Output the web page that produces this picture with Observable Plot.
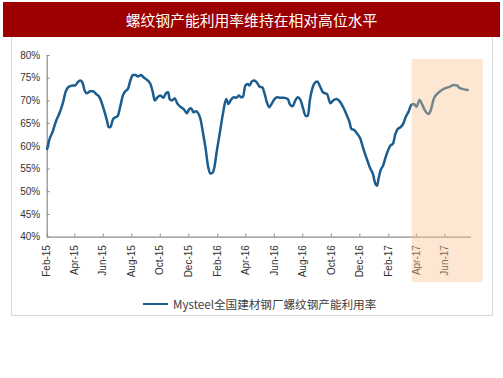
<!DOCTYPE html>
<html><head><meta charset="utf-8">
<script src="https://cdn.jsdelivr.net/npm/d3@7"></script>
<script src="https://cdn.jsdelivr.net/npm/@observablehq/plot@0.6"></script>
<style>
html,body{margin:0;padding:0;background:#fff;}
#wrap{position:relative;width:503px;height:378px;overflow:hidden;}
#box{position:absolute;left:11px;top:30px;width:482px;height:286px;border:1px solid #d9d9d9;box-sizing:border-box;}
#title{position:absolute;left:3px;top:2px;width:497px;height:35px;background:#9C0000;color:#fff;font:14.8px "Noto Sans CJK SC",sans-serif;display:flex;align-items:center;justify-content:center;}
#chart{position:absolute;left:0;top:0;}
#legend{position:absolute;left:143px;top:296px;height:16px;display:flex;align-items:center;font:11.6px "Noto Sans CJK SC",sans-serif;color:#404040;white-space:nowrap;}
#legend .sw{width:25px;height:2.5px;background:#1A5D8E;margin-right:5px;}
</style></head>
<body>
<div id="wrap">
  <div id="box"></div>
  <div id="chart"></div>
  <div id="title">螺纹钢产能利用率维持在相对高位水平</div>
  <div id="legend"><span class="sw"></span><span>Mysteel全国建材钢厂螺纹钢产能利用率</span></div>
</div>
<script>
const seriesName = "Mysteel全国建材钢厂螺纹钢产能利用率";
const dates = [
"2015-02-01","2015-02-06","2015-02-12","2015-02-19","2015-02-28","2015-03-07","2015-03-12","2015-03-19","2015-03-28","2015-04-02",
"2015-04-07","2015-04-13","2015-04-18","2015-04-22","2015-04-27","2015-05-04","2015-05-10","2015-05-17","2015-05-24","2015-06-02",
"2015-06-09","2015-06-12","2015-06-16","2015-06-22","2015-06-27","2015-07-02","2015-07-07","2015-07-13","2015-07-20","2015-07-24",
"2015-07-29","2015-08-03","2015-08-09","2015-08-14","2015-08-21","2015-08-26","2015-09-03","2015-09-10","2015-09-15","2015-09-19",
"2015-09-25","2015-10-01","2015-10-08","2015-10-13","2015-10-18","2015-10-21","2015-10-26","2015-11-01","2015-11-06","2015-11-13",
"2015-11-20","2015-11-27","2015-12-02","2015-12-06","2015-12-11","2015-12-16","2015-12-21","2015-12-26","2015-12-31","2016-01-06",
"2016-01-11","2016-01-16","2016-01-21","2016-01-25","2016-01-29","2016-02-05","2016-02-12","2016-02-19","2016-02-24","2016-02-29",
"2016-03-06","2016-03-12","2016-03-17","2016-03-22","2016-03-26","2016-03-31","2016-04-05","2016-04-09","2016-04-14","2016-04-19",
"2016-04-25","2016-05-01","2016-05-06","2016-05-11","2016-05-16","2016-05-21","2016-05-26","2016-05-31","2016-06-07","2016-06-14",
"2016-06-21","2016-06-30","2016-07-04","2016-07-10","2016-07-16","2016-07-21","2016-07-27","2016-08-02","2016-08-07","2016-08-12",
"2016-08-16","2016-08-21","2016-08-26","2016-09-01","2016-09-06","2016-09-13","2016-09-22","2016-09-29","2016-10-05","2016-10-12",
"2016-10-19","2016-10-26","2016-11-02","2016-11-09","2016-11-13","2016-11-19","2016-11-25","2016-12-02","2016-12-09","2016-12-16",
"2016-12-23","2016-12-29","2017-01-03","2017-01-07","2017-01-10","2017-01-14","2017-01-20","2017-01-25","2017-01-30","2017-02-04",
"2017-02-10","2017-02-15","2017-02-20","2017-02-26","2017-03-04","2017-03-09","2017-03-16","2017-03-21","2017-03-27","2017-04-01",
"2017-04-08","2017-04-13","2017-04-20","2017-04-27","2017-05-02","2017-05-08","2017-05-15","2017-05-24","2017-06-02","2017-06-11",
"2017-06-20","2017-06-27","2017-07-03","2017-07-11","2017-07-20"
];
const values = [
59.4,61.6,63.0,65.3,67.5,69.7,71.9,73.1,73.4,73.4,
74.1,74.5,73.9,72.3,71.7,72.1,72.1,71.5,70.8,68.2,
65.6,64.3,64.2,66.0,66.4,66.7,68.6,71.2,72.3,72.7,
74.5,75.7,75.7,75.4,75.7,75.2,74.6,73.7,71.9,70.1,
70.8,71.2,70.7,71.7,71.9,70.4,70.1,70.6,69.5,68.7,
68.2,67.3,68.2,68.4,67.5,67.7,67.3,66.0,63.2,59.5,
55.7,54.0,54.2,55.5,58.3,62.7,67.1,70.4,69.3,70.2,
70.8,70.7,71.2,70.8,70.9,73.4,73.7,73.4,74.3,74.5,
74.0,73.1,73.0,71.7,69.7,68.6,69.3,70.2,70.8,70.7,
70.7,70.4,69.3,68.8,70.1,70.8,70.2,68.2,66.7,66.7,
70.1,72.6,73.9,74.3,73.4,71.9,71.5,69.5,70.1,70.4,
69.9,68.7,67.1,65.3,63.8,63.6,62.8,61.7,59.3,57.2,
55.2,53.9,51.8,51.3,52.8,54.6,55.8,57.5,59.0,60.1,
60.6,62.7,63.8,64.2,65.0,66.4,67.8,69.1,69.3,68.7,
70.2,69.3,67.8,67.1,68.0,70.4,71.5,72.3,72.8,73.1,
73.5,73.4,72.8,72.6,72.4
];
const xTickDates = ["2015-02-01","2015-04-01","2015-06-01","2015-08-01","2015-10-01","2015-12-01","2016-02-01","2016-04-01","2016-06-01","2016-08-01","2016-10-01","2016-12-01","2017-02-01","2017-04-01","2017-06-01"];
const yTicks = [40,45,50,55,60,65,70,75,80];
const xDomain = ["2015-02-01","2017-07-28"];
const bandDates = ["2017-03-23","2017-08-22"];
const bandValues = [30,79.1];

const parse = d3.utcParse("%Y-%m-%d");
const data = dates.map((d,i)=>({date: parse(d), value: values[i]}));
const xt = xTickDates.map(parse);
const x0 = parse(xDomain[0]), x1 = parse(xDomain[1]);
const band = [{x1: parse(bandDates[0]), x2: parse(bandDates[1]), y1: bandValues[0], y2: bandValues[1]}];
const axisColor = "#8c8c8c";

const chart = Plot.plot({
  width: 503, height: 378,
  marginLeft: 46.7, marginRight: 32, marginTop: 55, marginBottom: 141.4,
  x: {type: "utc", domain: [x0, x1]},
  y: {domain: [40, 80]},
  style: {fontFamily: "'Liberation Sans', Arial, sans-serif", fontSize: "10px", color: "#333", background: "transparent", overflow: "visible"},
  marks: [
    Plot.axisY(yTicks, {tickSize: 0, tickPadding: 7, tickFormat: d => d + "%", label: null, fill: "#333"}),
    Plot.axisX(xt, {tickSize: 0, tickPadding: 8, tickRotate: -90, tickFormat: d3.utcFormat("%b-%y"), label: null, fill: "#333"}),
    Plot.ruleY(yTicks, {y: d => d, x1: () => x0, x2: () => x0, insetRight: -3, stroke: axisColor}),
    Plot.ruleX(xt, {x: d => d, y1: () => 40, y2: () => 40, insetBottom: 3, stroke: axisColor}),
    Plot.ruleY([40], {stroke: axisColor, strokeWidth: 1.2}),
    Plot.ruleX([x0], {stroke: axisColor, strokeWidth: 1.2}),
    Plot.line(data, {x: "date", y: "value", stroke: "#1A5D8E", strokeWidth: 2.5, curve: "monotone-x"}),
    Plot.rect(band, {x1: "x1", x2: "x2", y1: "y1", y2: "y2", fill: "rgb(250,195,142)", fillOpacity: 0.4})
  ]
});
document.getElementById("chart").append(chart);
</script>
</body></html>
